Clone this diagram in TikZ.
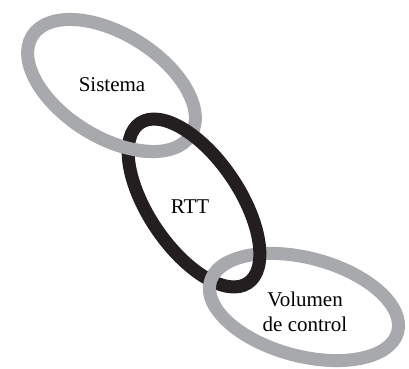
\documentclass[tikz,border=0pt]{standalone}
\usepackage{fontspec}
\setmainfont{Liberation Serif}
\usepackage{tikz}
\definecolor{linkgray}{RGB}{167,169,172}
\definecolor{linkblack}{RGB}{35,31,32}

\begin{document}
\begin{tikzpicture}[x=1pt, y=1pt,
  link/.style={line width=13pt},
  lbl/.style={font=\fontsize{21}{25}\selectfont, align=center}]
\useasboundingbox (0,0) rectangle (409,368);
% eslabon superior (gris)
\begin{scope}[shift={(111.5,282.5)}, rotate=-32]
  \draw[link, linkgray] (0,0) ellipse [x radius=93.5pt, y radius=51.5pt];
\end{scope}
% eslabon inferior (gris)
\begin{scope}[shift={(304,61)}, rotate=-15]
  \draw[link, linkgray] (0,0) ellipse [x radius=97pt, y radius=49pt];
\end{scope}
% eslabon central (negro)
\begin{scope}[shift={(194,165)}, rotate=-56]
  \draw[link, linkblack] (0,0) ellipse [x radius=96.5pt, y radius=45.5pt];
\end{scope}
% cruces: gris por encima del negro
\begin{scope}[shift={(111.5,282.5)}, rotate=-32]
  \draw[link, linkgray] (-100:93.5pt and 51.5pt)
    arc[start angle=-100, end angle=-40, x radius=93.5pt, y radius=51.5pt];
\end{scope}
\begin{scope}[shift={(304,61)}, rotate=-15]
  \draw[link, linkgray] (150:97pt and 49pt)
    arc[start angle=150, end angle=210, x radius=97pt, y radius=49pt];
\end{scope}
% textos
\node[lbl] (sistema) at (112,283) {Sistema};
\node[lbl] (rtt) at (190,161) {RTT};
\node[lbl] (volumen) at (305,56) {Volumen\\de control};
\end{tikzpicture}
\end{document}
